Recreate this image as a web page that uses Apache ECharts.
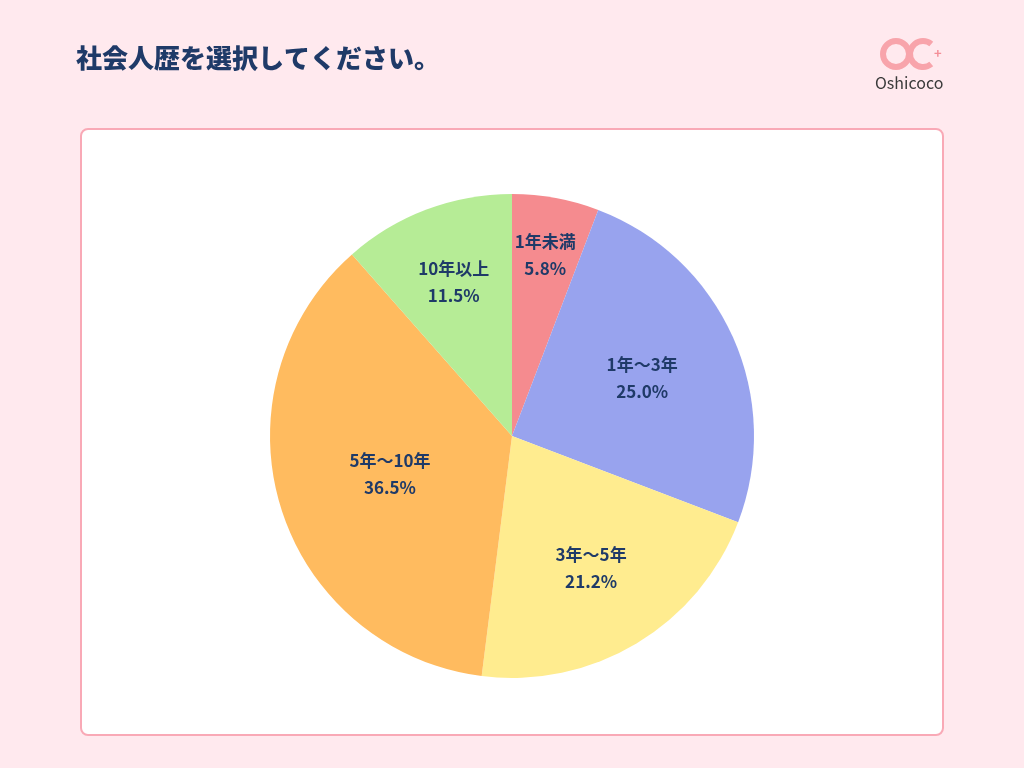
<!DOCTYPE html>
<html>
<head>
<meta charset="utf-8">
<script src="https://cdn.jsdelivr.net/npm/echarts@6/dist/echarts.min.js"></script>
<style>
  html, body { margin: 0; padding: 0; background: #ffe9ee; }
  #chart { width: 1024px; height: 768px; }
</style>
</head>
<body>
<div id="chart"></div>
<script>
/* データ */
const categories = ['1年未満', '1年～3年', '3年～5年', '5年～10年', '10年以上'];
const shares = [5.8, 25.0, 21.2, 36.5, 11.5];
const colors = ['#f58b8f', '#98a3ee', '#ffec8f', '#ffbb5f', '#b6ec96'];
/* ラベルの半径（半径に対する比率） */
const labelRadius = [0.74, 0.575, 0.62, 0.515, 0.665];

const center = [512, 436];
const radius = 242;
const navy = '#1f3a68';
const font = '"Noto Sans CJK JP", "Noto Sans", sans-serif';

const chart = echarts.init(document.getElementById('chart'));

const option = {
  backgroundColor: '#ffe9ee',
  animation: false,
  graphic: [
    {
      type: 'rect',
      shape: { x: 81, y: 129, width: 862, height: 606, r: 7 },
      style: { fill: '#ffffff', stroke: '#f9a9b6', lineWidth: 2 },
      z: -10
    },
    {
      type: 'text',
      left: 76, top: 45,
      style: { text: '社会人歴を選択してください。', fill: navy, font: '900 26px ' + font }
    },
    /* ロゴ */
    {
      type: 'circle',
      shape: { cx: 896, cy: 54, r: 13 },
      style: { fill: 'none', stroke: '#f8a4ab', lineWidth: 6 }
    },
    {
      type: 'arc',
      shape: { cx: 923, cy: 54, r: 13, startAngle: Math.PI * 0.28, endAngle: Math.PI * 1.72, clockwise: true },
      style: { fill: 'none', stroke: '#f8a4ab', lineWidth: 6 }
    },
    {
      type: 'text',
      left: 934, top: 47,
      style: { text: '+', fill: '#f48f98', font: 'bold 13px ' + font }
    },
    {
      type: 'text',
      left: 875, top: 75,
      style: { text: 'Oshicoco', fill: '#3a3a3a', font: '16px ' + font }
    }
  ],
  series: [
    {
      type: 'pie',
      center: center,
      radius: [0, radius],
      startAngle: 90,
      clockwise: true,
      data: categories.map((name, i) => ({ name: name, value: shares[i], itemStyle: { color: colors[i] } })),
      itemStyle: { borderWidth: 0 },
      label: {
        position: 'inside',
        formatter: p => p.name + '\n' + p.value.toFixed(1) + '%',
        color: navy,
        fontFamily: font,
        fontWeight: 'bold',
        fontSize: 17,
        lineHeight: 27,
        align: 'center'
      },
      labelLine: { show: false },
      emphasis: { disabled: true },
      labelLayout: function (params) {
        const r = params.labelRect;
        const cx = r.x + r.width / 2;
        const cy = r.y + r.height / 2;
        const k = labelRadius[params.dataIndex] / 0.5;
        return {
          x: center[0] + (cx - center[0]) * k,
          y: center[1] + (cy - center[1]) * k,
          align: 'center',
          verticalAlign: 'middle'
        };
      }
    }
  ]
};

option && chart.setOption(option);
</script>
</body>
</html>
